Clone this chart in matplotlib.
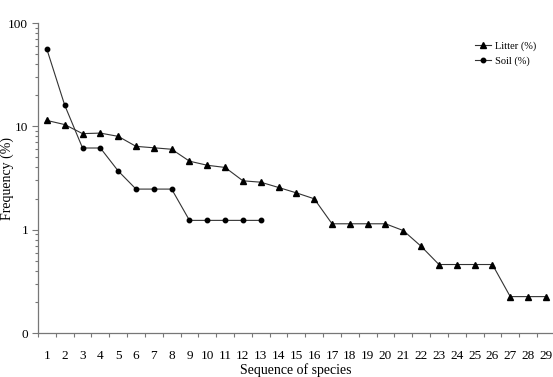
import numpy as np
import matplotlib.pyplot as plt
from matplotlib.ticker import FixedLocator, FixedFormatter, LogLocator, NullFormatter

plt.rcParams['font.family'] = ['Liberation Serif', 'DejaVu Serif']

species = list(range(1, 30))
litter = [11.4, 10.4, 8.5, 8.6, 8.0, 6.4, 6.2, 6.0, 4.6, 4.2, 4.0, 2.97, 2.88,
          2.56, 2.27, 1.99, 1.14, 1.14, 1.14, 1.14, 0.98, 0.69, 0.46, 0.46,
          0.46, 0.46, 0.225, 0.225, 0.225]
soil_species = list(range(1, 14))
soil = [55.6, 16.0, 6.17, 6.17, 3.70, 2.47, 2.47, 2.47, 1.23, 1.23, 1.23, 1.23, 1.23]

fig = plt.figure(figsize=(5.53, 3.77), dpi=100)
ax = fig.add_axes([38/553, 44/377, 515/553, 310/377])

ax.plot(species, litter, color='#333333', lw=0.8, marker='^', ms=4,
        mfc='black', mec='black', label='Litter (%)')
ax.plot(soil_species, soil, color='#333333', lw=0.8, marker='o', ms=3.2,
        mfc='black', mec='black', label='Soil (%)')

ax.set_yscale('log')
ax.set_ylim(0.1, 100)
ax.set_xlim(0.5, 29.4)

ax.yaxis.set_major_locator(FixedLocator([0.1, 1, 10, 100]))
ax.yaxis.set_major_formatter(FixedFormatter(['0', '1', '10', '100']))
ax.yaxis.set_minor_locator(LogLocator(base=10, subs=np.arange(2, 10)))
ax.yaxis.set_minor_formatter(NullFormatter())

ax.set_xticks(species)
ax.set_xticklabels([str(s) for s in species])
ax.xaxis.set_minor_locator(FixedLocator(np.arange(0.5, 29.5, 1)))

ax.tick_params(axis='x', which='major', length=0, pad=12, labelsize=9.5)
ax.tick_params(axis='x', which='minor', length=3, color='#777777', width=0.8)
ax.tick_params(axis='y', which='major', length=4, color='#777777', width=0.8,
               pad=3, labelsize=9.5)
ax.tick_params(axis='y', which='minor', length=2, color='#777777', width=0.8)

for side in ['top', 'right']:
    ax.spines[side].set_visible(False)
for side in ['left', 'bottom']:
    ax.spines[side].set_color('#777777')
    ax.spines[side].set_linewidth(0.9)

ax.set_xlabel('Sequence of species', fontsize=10, labelpad=1)
ax.set_ylabel('Frequency (%)', fontsize=10)
ax.yaxis.set_label_coords(-0.047, 0.5)

ax.legend(loc='upper left', bbox_to_anchor=(0.84, 0.955), frameon=False,
          fontsize=7.5, handlelength=1.6, handletextpad=0.3, labelspacing=0.55,
          borderaxespad=0)

fig.savefig('out.png', dpi=100)
